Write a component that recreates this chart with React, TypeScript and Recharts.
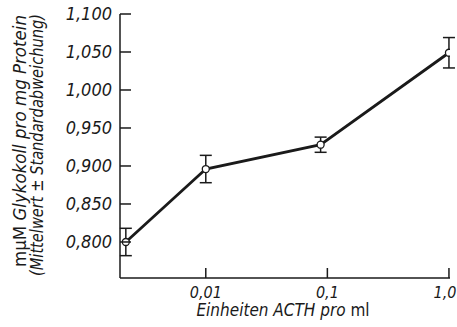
import { ErrorBar, Label, Line, LineChart, XAxis, YAxis } from 'recharts';

// ACTH units per ml (first point = control, drawn near the axis)
const acthUnits = [0.0022, 0.01, 0.088, 1.0];
const glycineMean = [0.8, 0.896, 0.928, 1.049];
const glycineSd = [0.018, 0.018, 0.01, 0.02];

const yTicks = [0.8, 0.85, 0.9, 0.95, 1.0, 1.05, 1.1];
const yTickLabels = ['0,800', '0,850', '0,900', '0,950', '1,000', '1,050', '1,100'];
const xTicks = [0.01, 0.1, 1];
const xTickLabels = ['0,01', '0,1', '1,0'];

const data = acthUnits.map((x, i) => ({ x, mean: glycineMean[i], sd: glycineSd[i] }));

const FONT = '"DejaVu Sans Condensed", "Liberation Sans Narrow", "DejaVu Sans", sans-serif';
const INK = '#1a1a1a';

function YTick({ x, y, payload }: any) {
  const i = yTicks.indexOf(payload.value);
  return (
    <g>
      <line x1={x} x2={x + 11} y1={y} y2={y} stroke={INK} strokeWidth={1.5} />
      <text
        x={x - 8}
        y={y}
        dy={6}
        textAnchor="end"
        fontFamily={FONT}
        fontStyle="italic"
        fontStretch="condensed"
        fontSize={18}
        fill={INK}
      >
        {yTickLabels[i]}
      </text>
    </g>
  );
}

function XTick({ x, y, payload }: any) {
  const i = xTicks.indexOf(payload.value);
  return (
    <g>
      <line x1={x} x2={x} y1={y} y2={y - 10} stroke={INK} strokeWidth={1.5} />
      <text
        x={i === 2 ? x - 4 : x}
        y={y + 20}
        textAnchor="middle"
        fontFamily={FONT}
        fontStyle="italic"
        fontStretch="condensed"
        fontSize={16}
        fill={INK}
      >
        {xTickLabels[i]}
      </text>
    </g>
  );
}

function YTitle() {
  return (
    <g fontFamily={FONT} fontStretch="condensed" fill={INK} fontSize={17}>
      <text
        transform="translate(26,141) rotate(-90)"
        textAnchor="middle"
        textLength={252}
        lengthAdjust="spacingAndGlyphs"
      >
        <tspan fontStyle="normal">mμM </tspan>
        <tspan fontStyle="italic">Glykokoll pro mg Protein</tspan>
      </text>
      <text
        transform="translate(43,145) rotate(-90)"
        textAnchor="middle"
        fontStyle="italic"
        textLength={262}
        lengthAdjust="spacingAndGlyphs"
      >
        (Mittelwert ± Standardabweichung)
      </text>
    </g>
  );
}

function XTitle() {
  return (
    <text
      x={283}
      y={316}
      textAnchor="middle"
      fontFamily={FONT}
      fontStyle="italic"
      fontStretch="condensed"
      fontSize={17}
      fill={INK}
    >
      Einheiten  ACTH <tspan>pro</tspan> <tspan fontStyle="normal">ml</tspan>
    </text>
  );
}

export default function App() {
  return (
    <div style={{ position: 'absolute', left: 0, top: 0, background: '#fff' }}>
      <LineChart width={457} height={327} data={data} margin={{ top: 14, right: 7, left: 30, bottom: 0 }}>
        <XAxis
          dataKey="x"
          type="number"
          scale="log"
          domain={[0.00197, 1.02]}
          ticks={xTicks}
          tick={<XTick />}
          tickSize={0}
          tickMargin={0}
          tickLine={false}
          height={49}
          axisLine={{ stroke: INK, strokeWidth: 1.5 }}
          allowDataOverflow
        >
          <Label content={<XTitle />} />
        </XAxis>
        <YAxis
          type="number"
          domain={[0.7526, 1.1]}
          ticks={yTicks}
          tick={<YTick />}
          tickSize={0}
          tickMargin={0}
          tickLine={false}
          width={90}
          axisLine={{ stroke: INK, strokeWidth: 1.5 }}
          allowDataOverflow
        >
          <Label content={<YTitle />} />
        </YAxis>
        <Line
          dataKey="mean"
          type="linear"
          stroke={INK}
          strokeWidth={2.8}
          dot={{ r: 3.5, fill: '#fff', stroke: INK, strokeWidth: 1.3 }}
          activeDot={false}
          isAnimationActive={false}
        >
          <ErrorBar dataKey="sd" direction="y" width={6} stroke={INK} strokeWidth={1.5} />
        </Line>
      </LineChart>
    </div>
  );
}
